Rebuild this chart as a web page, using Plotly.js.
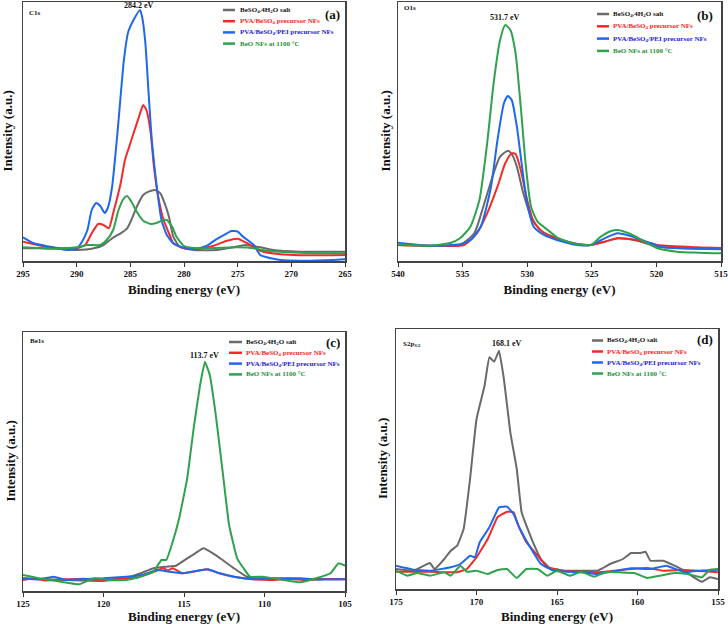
<!DOCTYPE html>
<html>
<head>
<meta charset="utf-8">
<script src="https://cdn.plot.ly/plotly-3.0.1.min.js"></script>
<style>html,body{margin:0;padding:0;background:#fff;}#chart{width:728px;height:624px;}</style>
</head>
<body>
<div id="chart"></div>
<script>
// ---------- DATA ----------
const seriesNames = ['BeSO<sub>4</sub>.4H<sub>2</sub>O salt', 'PVA/BeSO<sub>4</sub> precursor NFs', 'PVA/BeSO<sub>4</sub>/PEI precursor NFs', 'BeO NFs at 1100 °C'];
const panelTags = ['(a)', '(b)', '(c)', '(d)'];
const coreLevels = ['C1s', 'O1s', 'Be1s', 'S2p<sub>3/2</sub>'];
const peakPositions = [284.2, 531.7, 113.7, 168.1];
const peakLabels = ['284.2 eV', '531.7 eV', '113.7 eV', '168.1 eV'];
const xRanges = [[295, 265], [540, 515], [125, 105], [175, 155]];

// C1s
const c1sGrayE = [295, 292.5, 290, 288.4, 287.5, 286.7, 285.9, 285.3, 284.9, 284.4, 283.8, 283.3, 282.7, 282.2, 281.8, 281.4, 281, 280.4, 279.1, 277, 275.4, 274.3, 272.9, 271.7, 269.2, 265];
const c1sGrayI = [12.7, 12.7, 11, 12.7, 16, 22.7, 27.7, 32.7, 41, 54.3, 66, 69.3, 71, 67.7, 57.7, 44.3, 24.3, 14.3, 11, 11, 13.7, 16, 13.7, 11, 9.3, 9.3];
const c1sRedE = [295, 292.5, 290, 289.2, 288.6, 288, 287.5, 287, 286.6, 285.9, 285.5, 285, 284.7, 284.2, 283.8, 283.5, 283.1, 282.8, 282.4, 281.9, 281.4, 281, 280, 278.5, 277.3, 276, 275, 274.2, 272.9, 271, 269.2, 265];
const c1sRedI = [19.3, 13.7, 12.7, 16, 27.7, 37, 36, 32.7, 47.7, 77.7, 101, 117.7, 127.7, 144, 156, 151, 127.7, 94, 64, 41, 27.7, 17.7, 12.7, 12.3, 15, 20.3, 22.3, 18.3, 10.3, 6.7, 5.7, 6];
const c1sBlueE = [295, 294, 292.5, 290.9, 290, 289.5, 289, 288.6, 288.2, 287.8, 287.4, 287.1, 286.7, 286.2, 285.6, 285.2, 284.7, 284.1, 283.9, 283.6, 283.3, 283, 282.5, 282.1, 281.6, 281, 280.2, 279.1, 277.9, 277, 276, 275.6, 275, 274.5, 273.5, 272.9, 271.9, 271, 269.2, 266.1, 265];
const c1sBlueI = [23.7, 17.7, 14.3, 11, 12.7, 19.3, 31, 51, 58, 55, 48, 53, 74, 128, 201, 229, 241, 251, 244, 218, 168, 121, 71, 41, 26, 17.7, 13.7, 11.7, 15, 21.7, 27.7, 30, 29.3, 24.3, 16, 6, 2.7, 1, 0.3, 1, 1.7];
const c1sGreenE = [295, 292.5, 290, 289, 287.8, 287.2, 286.6, 286.1, 285.6, 285.3, 284.9, 284.4, 283.8, 283.1, 282.5, 281.9, 281.6, 281.1, 280.7, 280, 278.5, 275, 273.5, 272.3, 269.2, 265];
const c1sGreenI = [13.7, 12.3, 13.7, 16, 16, 21, 31, 51, 62.7, 65, 59.3, 49.3, 40.3, 37, 38.3, 41, 41, 34.3, 24.3, 15, 12.7, 13.7, 12.7, 10.3, 8.3, 7.7];

// O1s
const o1sGrayE = [540, 537.5, 535.2, 534.1, 533.4, 532.6, 532.1, 531.5, 531.2, 530.8, 530.3, 529.7, 529, 527.7, 526.1, 525.1, 524, 523, 521.5, 519.9, 516.8, 515];
const o1sGrayI = [16, 15.3, 16, 27.7, 54.3, 87.7, 104.3, 110.3, 107, 94.3, 67.7, 44.3, 31, 22.7, 17, 16, 19.3, 22.7, 20.3, 14.3, 12.3, 12.3];
const o1sRedE = [540, 537.5, 534.9, 533.9, 533.1, 532.3, 531.7, 531.2, 530.9, 530.5, 530, 529.5, 528.7, 527.4, 526.1, 525.1, 524, 523, 521.5, 519.9, 516.8, 515];
const o1sRedI = [16, 15.3, 16, 27.7, 47.7, 74.3, 97.7, 107.7, 107, 91, 61, 39.3, 27.7, 21, 16.7, 16, 19.3, 22.7, 21, 16, 13.7, 13];
const o1sBlueE = [540, 537.5, 535.2, 534.4, 533.6, 532.8, 532.3, 531.8, 531.5, 531.2, 530.8, 530.4, 530, 529.5, 528.7, 527.7, 526.1, 525.1, 524, 523, 522, 520.4, 519.4, 516.8, 515];
const o1sBlueI = [18.3, 15.3, 16.7, 21, 34.3, 74.3, 121, 157.7, 165, 161, 134.3, 94.3, 57.7, 34.3, 26, 21, 16, 16, 22.7, 27.7, 25, 17.7, 13.7, 12.3, 11.7];
const o1sGreenE = [540, 537.5, 535.9, 535.2, 534.4, 533.7, 533.1, 532.6, 532.1, 531.7, 531.3, 530.9, 530.5, 530.1, 529.7, 529.2, 528.4, 527.7, 526.6, 525.1, 524.3, 523.5, 523, 522, 520.9, 519.9, 518.4, 516.8, 515];
const o1sGreenI = [16.7, 15.3, 18.3, 22.7, 34.3, 61, 117.7, 177.7, 221, 236, 231, 207.7, 154.3, 94.3, 54.3, 39.3, 31, 23.7, 18.3, 16, 24.3, 30, 31, 27, 19.3, 12.7, 9.3, 8.3, 7.7];

// Be1s
const be1sGrayE = [125, 122.3, 120, 118.6, 117.7, 116.9, 116.1, 115.5, 114.8, 114.3, 113.8, 113.2, 112.6, 111.9, 111.1, 109.9, 107.8, 105];
const be1sGrayI = [12.7, 11, 10, 12.7, 17.7, 22.7, 24.3, 25.3, 32.7, 37.7, 42.7, 37.7, 31, 22.7, 14.3, 12.7, 12, 12];
const be1sRedE = [125, 124.3, 123.6, 122.3, 121.2, 120, 119.2, 118.2, 117.1, 116.3, 116, 115.7, 115.1, 114.4, 113.6, 112.8, 111.9, 110.7, 109.5, 108.5, 107.4, 106.2, 105];
const be1sRedI = [11, 12.5, 10.5, 11.7, 12.3, 11, 12, 12.7, 17.7, 22.7, 20.5, 22.7, 17.7, 19.3, 21.7, 17.7, 14.3, 11.7, 11, 12.3, 10.8, 12, 11.7];
const be1sBlueE = [125, 124.1, 123.1, 122.3, 121.2, 120, 118.6, 117.6, 116.7, 115.9, 115.1, 114.3, 113.5, 112.8, 111.9, 110.7, 109.5, 107.8, 106.5, 105];
const be1sBlueI = [12.7, 11.5, 14.3, 11, 12, 12.7, 14.3, 16, 21, 19.3, 17.7, 20, 21.7, 17.7, 14.3, 11.7, 12.5, 12.7, 11.5, 11.7];
const be1sGreenE = [125, 124, 122.9, 121.5, 120.6, 119.6, 118.6, 117.7, 116.9, 116.4, 116.1, 115.7, 115.3, 114.8, 114.4, 114, 113.7, 113.4, 113, 112.6, 112.2, 111.7, 111.3, 110.9, 110.1, 108.8, 107.8, 106.8, 105.9, 105.4, 105];
const be1sGreenI = [16, 12.7, 10, 6.7, 12.7, 11, 11, 14.3, 19.3, 31, 31, 49.3, 72.7, 112.7, 162.7, 206, 229.3, 216, 172.7, 119.3, 66, 32.7, 22.7, 14.3, 14.3, 11, 8.7, 12.7, 17.7, 27.7, 25.3];

// S2p3/2
const s2pGrayE = [175, 173.9, 172.9, 172.6, 172, 171.6, 171.2, 170.8, 170.4, 170, 169.5, 169.2, 168.9, 168.6, 168.3, 167.9, 167.5, 167.2, 166.9, 166.4, 166, 165.5, 164.6, 163.5, 162.5, 161.7, 160.9, 160.4, 159.8, 159.5, 159.2, 158.4, 157.7, 157.1, 156.5, 156, 155.5, 155];
const s2pGrayI = [20, 18.3, 26, 20, 30, 38.3, 43.3, 60, 110, 170, 203.3, 231.7, 227.3, 238.3, 210, 156.7, 120, 76.7, 63.3, 43.3, 30, 21.7, 18.3, 18.3, 18.3, 25, 30, 36, 36, 37.3, 28.3, 28.3, 23.3, 18.3, 11.7, 7.3, 11.7, 10];
const s2pRedE = [175, 172.9, 171.2, 170.6, 170, 169.3, 168.7, 168.1, 167.7, 167.4, 166.9, 166.2, 165.6, 164.6, 162.5, 160.4, 159.4, 158.4, 157.1, 155];
const s2pRedI = [17.3, 17.3, 16.7, 20, 31.7, 50, 71.7, 77.3, 76.7, 63.3, 46.7, 33.3, 21.7, 18.3, 16.7, 20, 21, 18.3, 19, 16.7];
const s2pBlueE = [175, 173.9, 172.9, 171.6, 171, 170.4, 170.1, 169.8, 169.2, 168.6, 168.1, 167.7, 167.3, 166.6, 166, 165.2, 163.5, 162.5, 160.4, 159.2, 158.2, 157.1, 156.3, 155];
const s2pBlueI = [23.3, 19.3, 18.3, 21.7, 25, 33.3, 31.7, 46.7, 61.7, 81.7, 82.3, 75, 60, 40, 25, 18.3, 16.7, 15, 20.7, 20, 23.3, 16.7, 18.3, 19.3];
const s2pGreenE = [175, 174.3, 173.7, 172.9, 172, 171.6, 171, 170.6, 170, 169.3, 168.7, 168.1, 167.5, 166.9, 166.2, 165.6, 165, 164.2, 163.5, 162.7, 161.9, 161.1, 160.2, 159.4, 158.6, 157.7, 156.9, 156, 155.5, 155];
const s2pGreenI = [18.3, 13.3, 16, 13.3, 16.7, 13.3, 23.3, 17.3, 18.3, 15, 19, 20, 11, 20, 20, 13.3, 18.3, 13.3, 17.3, 12.3, 17.3, 16.7, 16, 11, 13.3, 16, 15, 11.7, 19.3, 20];

// ---------- STYLE ----------
const lineColors = ['#6a6a6a', '#f22a2a', '#1f68ec', '#2ea24c'];
const textColors = ['#111111', '#ff1a1a', '#2222dd', '#1f8f34'];
const serif = "'Liberation Serif', 'Times New Roman', Times, serif";

const panels = [
  {E: [c1sGrayE, c1sRedE, c1sBlueE, c1sGreenE], I: [c1sGrayI, c1sRedI, c1sBlueI, c1sGreenI], smooth: 0.5},
  {E: [o1sGrayE, o1sRedE, o1sBlueE, o1sGreenE], I: [o1sGrayI, o1sRedI, o1sBlueI, o1sGreenI], smooth: 0.6},
  {E: [be1sGrayE, be1sRedE, be1sBlueE, be1sGreenE], I: [be1sGrayI, be1sRedI, be1sBlueI, be1sGreenI], smooth: 0.3},
  {E: [s2pGrayE, s2pRedE, s2pBlueE, s2pGreenE], I: [s2pGrayI, s2pRedI, s2pBlueI, s2pGreenI], smooth: 0.3}
];

// pixel geometry of each plot box: [left, right, top, bottom]
const boxes = [[23, 345, 2, 261], [398, 721, 2, 261], [23, 345, 332, 591], [396, 718, 329, 589]];
const yMax = [259, 259, 259, 260];
const legendPos = [ // [lineX0, lineX1, textX, firstRowY, rowStep]
  [223, 235, 238, 10, 11.2],
  [597, 609, 611, 14, 12.3],
  [229, 242, 244, 342, 10.8],
  [592, 603, 605, 340.5, 11]
];
const tagPos = [[332.5, 14], [704.7, 15], [333, 342.5], [705, 340]];
const corePos = [[27, 13], [402, 8.5], [28, 341], [401, 344]];
const peakY = [6, 17.3, 355.3, 343.7];
const yTitleX = [7, 385, 10, 382];

const W = 728, H = 624;
const px = x => x / W, py = y => 1 - y / H;

const traces = [];
const layout = {
  width: W, height: H,
  margin: {l: 0, r: 0, t: 0, b: 0},
  paper_bgcolor: '#ffffff', plot_bgcolor: '#ffffff',
  showlegend: false,
  font: {family: serif, color: '#111'},
  annotations: [], shapes: []
};

panels.forEach((p, k) => {
  const sfx = k === 0 ? '' : String(k + 1);
  const b = boxes[k];
  for (let s = 0; s < 4; s++) {
    traces.push({
      type: 'scatter', mode: 'lines',
      x: p.E[s], y: p.I[s],
      xaxis: 'x' + sfx, yaxis: 'y' + sfx,
      name: seriesNames[s],
      line: {color: lineColors[s], width: 2, shape: 'spline', smoothing: p.smooth},
      hoverinfo: 'skip'
    });
  }
  layout['xaxis' + sfx] = {
    domain: [px(b[0]), px(b[1])],
    anchor: 'y' + sfx,
    range: xRanges[k],
    dtick: 5, tick0: 0,
    ticks: 'outside', ticklen: 4, tickwidth: 1, tickcolor: '#333',
    showline: true, linecolor: '#444', linewidth: 1.5, mirror: true,
    showgrid: false, zeroline: false,
    ticklabeloverflow: 'allow',
    tickfont: {family: serif, size: 9, weight: 'bold', color: '#111'},
    title: {text: 'Binding energy (eV)', font: {family: serif, size: 13, weight: 'bold', color: '#111'}, standoff: 6},
    automargin: false
  };
  layout['yaxis' + sfx] = {
    domain: [py(b[3]), py(b[2])],
    anchor: 'x' + sfx,
    range: [0, yMax[k]],
    showticklabels: false, ticks: '',
    showline: true, linecolor: '#444', linewidth: 1.5, mirror: true,
    showgrid: false, zeroline: false,
    title: {text: ''},
    automargin: false
  };
  // y-axis title (vertical)
  layout.annotations.push({xref: 'paper', yref: 'paper', x: px(yTitleX[k]), y: (py(b[3]) + py(b[2])) / 2,
    xanchor: 'center', yanchor: 'middle', showarrow: false, textangle: -90,
    text: 'Intensity (a.u.)',
    font: {family: serif, size: 13, weight: 'bold', color: '#111'}});
  // legend
  const lp = legendPos[k];
  for (let s = 0; s < 4; s++) {
    const yy = lp[3] + s * lp[4];
    layout.shapes.push({type: 'line', xref: 'paper', yref: 'paper',
      x0: px(lp[0]), x1: px(lp[1]), y0: py(yy), y1: py(yy),
      line: {color: lineColors[s], width: 2.5}});
    layout.annotations.push({xref: 'paper', yref: 'paper', x: px(lp[2]), y: py(yy),
      xanchor: 'left', yanchor: 'middle', showarrow: false,
      text: seriesNames[s],
      font: {family: serif, size: 7, weight: 'bold', color: textColors[s]}});
  }
  // panel tag
  layout.annotations.push({xref: 'paper', yref: 'paper', x: px(tagPos[k][0]), y: py(tagPos[k][1]),
    xanchor: 'center', yanchor: 'middle', showarrow: false, text: panelTags[k],
    font: {family: serif, size: 13, weight: 'bold', color: '#111'}});
  // core level
  layout.annotations.push({xref: 'paper', yref: 'paper', x: px(corePos[k][0]), y: py(corePos[k][1]),
    xanchor: 'left', yanchor: 'middle', showarrow: false, text: coreLevels[k],
    font: {family: serif, size: 7, weight: 'bold', color: '#111'}});
  // peak label
  layout.annotations.push({xref: 'x' + sfx, yref: 'paper', x: peakPositions[k], y: py(peakY[k]),
    xanchor: 'center', yanchor: 'middle', showarrow: false, text: peakLabels[k],
    font: {family: serif, size: 8, weight: 'bold', color: '#111'}});
});

Plotly.newPlot('chart', traces, layout, {staticPlot: true, displayModeBar: false});
</script>
</body>
</html>
